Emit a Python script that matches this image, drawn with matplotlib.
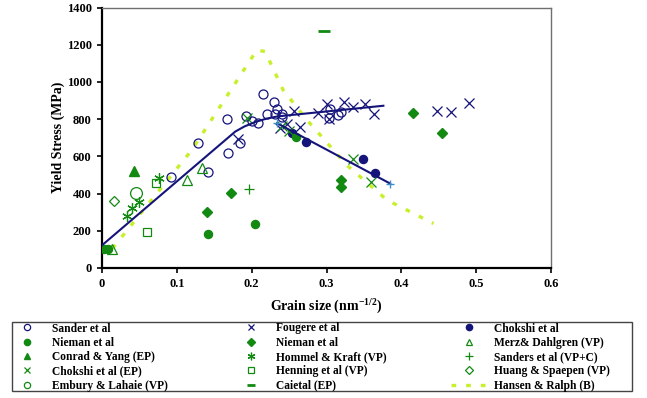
import matplotlib
matplotlib.use("Agg")
import matplotlib.pyplot as plt
from matplotlib.lines import Line2D
from matplotlib.patches import Rectangle

# ---------------- data ----------------
sander_x = [0.092, 0.128, 0.141, 0.167, 0.169, 0.185, 0.193, 0.201, 0.209, 0.215, 0.220,
            0.230, 0.234, 0.231, 0.241, 0.240, 0.303, 0.305, 0.316, 0.320]
sander_y = [490, 670, 515, 799, 617, 670, 815, 788, 781, 935, 825,
            892, 855, 825, 828, 812, 806, 855, 820, 840]
fougere_x = [0.182, 0.238, 0.247, 0.256, 0.265, 0.289, 0.300, 0.304, 0.323, 0.335, 0.352,
             0.364, 0.448, 0.467, 0.490]
fougere_y = [695, 752, 772, 842, 760, 834, 883, 802, 890, 867, 883, 828, 845, 838, 885]
chokshi_x = [0.254, 0.273, 0.349, 0.365]
chokshi_y = [725, 679, 584, 512]
nieman_c_x = [0.003, 0.008, 0.141, 0.205, 0.259]
nieman_c_y = [104, 104, 181, 239, 703]
nieman_d_x = [0.140, 0.172, 0.320, 0.320, 0.415, 0.455]
nieman_d_y = [300, 404, 472, 436, 835, 727]
merz_x = [0.014, 0.113, 0.134]
merz_y = [104, 472, 537]
conrad_x = [0.043]
conrad_y = [522]
hommel_x = [0.033, 0.040, 0.049, 0.076]
hommel_y = [281, 322, 355, 481]
sanders_x = [0.196]
sanders_y = [427]
chokshi_ep_x = [0.194, 0.240, 0.250, 0.335, 0.359]
chokshi_ep_y = [808, 765, 738, 584, 463]
henning_x = [0.060, 0.072]
henning_y = [194, 458]
huang_x = [0.016]
huang_y = [361]
embury_x = [0.045]
embury_y = [404]
cai_x = [0.296]
cai_y = [1276]
hansen_x = [0.014, 0.120, 0.207, 0.218, 0.242, 0.274, 0.327, 0.381, 0.443]
hansen_y = [105, 634, 1172, 1163, 957, 795, 553, 365, 239]
fit1_x = [0.0, 0.178, 0.19, 0.205, 0.22, 0.235, 0.376]
fit1_y = [122, 733, 760, 785, 803, 815, 872]
fit2_x = [0.234, 0.385]
fit2_y = [778, 454]

x_ticks = [0, 0.1, 0.2, 0.3, 0.4, 0.5, 0.6]
x_ticklabels = ["0", "0.1", "0.2", "0.3", "0.4", "0.5", "0.6"]
y_ticks = [0, 200, 400, 600, 800, 1000, 1200, 1400]

# ---------------- style ----------------
NAVY = "#14147a"
GREEN = "#128a12"
YG = "#c8f02a"
LBLUE = "#3a8fc8"
SERIF = "Liberation Serif"

plt.rcParams["font.family"] = SERIF
plt.rcParams["font.weight"] = "bold"
plt.rcParams["mathtext.fontset"] = "custom"
plt.rcParams["mathtext.rm"] = "Liberation Serif:bold"
plt.rcParams["mathtext.bf"] = "Liberation Serif:bold"

fig = plt.figure(figsize=(6.47, 3.98), dpi=100)
W, H = 647, 398
ax = fig.add_axes([102 / W, 1 - 268 / H, (551 - 102) / W, (268 - 7.5) / H])

ax.plot(hansen_x, hansen_y, color=YG, lw=2.4, ls=(0, (1.4, 3.0)), zorder=1)

ms = 6.5
ax.plot(sander_x, sander_y, ls="none", marker="o", mfc="none", mec=NAVY, ms=ms, mew=0.9, zorder=3)
ax.plot(fougere_x, fougere_y, ls="none", marker="x", color=NAVY, ms=ms, mew=0.9, zorder=3)
ax.plot(chokshi_x, chokshi_y, ls="none", marker="o", color=NAVY, ms=5.8, zorder=3)
ax.plot(nieman_c_x, nieman_c_y, ls="none", marker="o", color=GREEN, ms=5.8, zorder=3)
ax.plot(nieman_d_x, nieman_d_y, ls="none", marker="D", color=GREEN, ms=4.6, zorder=3)
ax.plot(merz_x, merz_y, ls="none", marker="^", mfc="none", mec=GREEN, ms=6.5, mew=0.9, zorder=3)
ax.plot(conrad_x, conrad_y, ls="none", marker="^", color=GREEN, ms=6.5, zorder=3)
ax.plot(hommel_x, hommel_y, ls="none", marker=(6, 2, 0), color=GREEN, ms=7.5, mew=0.9, zorder=3)
ax.plot(sanders_x, sanders_y, ls="none", marker="+", color=GREEN, ms=7, mew=0.9, zorder=3)
ax.plot(chokshi_ep_x, chokshi_ep_y, ls="none", marker="x", color=GREEN, ms=ms, mew=0.9, zorder=3)
ax.plot(henning_x, henning_y, ls="none", marker="s", mfc="none", mec=GREEN, ms=6, mew=0.9, zorder=3)
ax.plot(huang_x, huang_y, ls="none", marker="D", mfc="none", mec=GREEN, ms=5, mew=0.9, zorder=3)
ax.plot(embury_x, embury_y, ls="none", marker="o", mfc="none", mec=GREEN, ms=8.5, mew=0.9, zorder=3)
ax.plot(cai_x, cai_y, ls="none", marker="_", color=GREEN, ms=8, mew=2, zorder=3)

ax.plot(fit1_x, fit1_y, color=NAVY, lw=1.5, zorder=4)
ax.plot(fit2_x, fit2_y, color=NAVY, lw=1.5, marker="+", mec=LBLUE, ms=6, mew=1, zorder=4)

ax.set_xlim(0, 0.6)
ax.set_ylim(0, 1400)
ax.set_xticks(x_ticks)
ax.set_xticklabels(x_ticklabels)
ax.set_yticks(y_ticks)
ax.tick_params(axis="both", labelsize=9, direction="out", length=3.5, width=1.2, pad=4)
for lab in ax.get_xticklabels() + ax.get_yticklabels():
    lab.set_fontweight("bold")
for s in ("left", "bottom"):
    ax.spines[s].set_linewidth(1.6)
    ax.spines[s].set_color("black")
for s in ("top", "right"):
    ax.spines[s].set_linewidth(1.0)
    ax.spines[s].set_color("#6f6f6f")

ax.set_ylabel("Yield Stress (MPa)", fontsize=10, fontweight="bold", labelpad=1)
ax.set_xlabel(r"Grain size (nm$^{-1/2}$)", fontsize=10, fontweight="bold", labelpad=4)

# ---------------- legend ----------------
def mk(**kw):
    base = dict(ls="none")
    base.update(kw)
    return Line2D([], [], **base)

handles = [
    mk(marker="o", mfc="none", mec=NAVY, ms=4.5, mew=0.9),
    mk(marker="o", color=GREEN, ms=4.5),
    mk(marker="^", color=GREEN, ms=5),
    mk(marker="x", color=GREEN, ms=5, mew=0.9),
    mk(marker="o", mfc="none", mec=GREEN, ms=4.5, mew=0.9),
    mk(marker="x", color=NAVY, ms=5, mew=0.9),
    mk(marker="D", color=GREEN, ms=3.8),
    mk(marker=(6, 2, 0), color=GREEN, ms=5.5, mew=0.9),
    mk(marker="s", mfc="none", mec=GREEN, ms=4.2, mew=0.9),
    mk(marker="_", color=GREEN, ms=6, mew=2),
    mk(marker="o", color=NAVY, ms=4.5),
    mk(marker="^", mfc="none", mec=GREEN, ms=5, mew=0.9),
    mk(marker="+", color=GREEN, ms=5.5, mew=0.9),
    mk(marker="D", mfc="none", mec=GREEN, ms=3.8, mew=0.9),
    Line2D([], [], color=YG, lw=2.4, ls=(0, (1.4, 3.0))),
]
labels = [
    "Sander et al", "Nieman et al", "Conrad & Yang (EP)", "Chokshi et al (EP)",
    "Embury & Lahaie (VP)",
    "Fougere et al", "Nieman et al", "Hommel & Kraft (VP)", "Henning et al (VP)",
    "Caietal (EP)",
    "Chokshi et al", "Merz& Dahlgren (VP)", "Sanders et al (VP+C)", "Huang & Spaepen (VP)",
    "Hansen & Ralph (B)",
]
fig.patches.append(Rectangle((12 / W, 1 - 391 / H), 620 / W, 69 / H, transform=fig.transFigure,
                             fill=False, ec="#444444", lw=1.0))
leg = fig.legend(handles, labels, ncol=3, loc="upper left",
                 bbox_to_anchor=(8.5 / W, 1 - 322.5 / H), frameon=False,
                 prop={"family": SERIF, "weight": "bold", "size": 8.3},
                 handlelength=3.2, handletextpad=0.57, columnspacing=5.6,
                 labelspacing=0.2, borderpad=0, borderaxespad=0)

fig.savefig("out.png", dpi=100)
